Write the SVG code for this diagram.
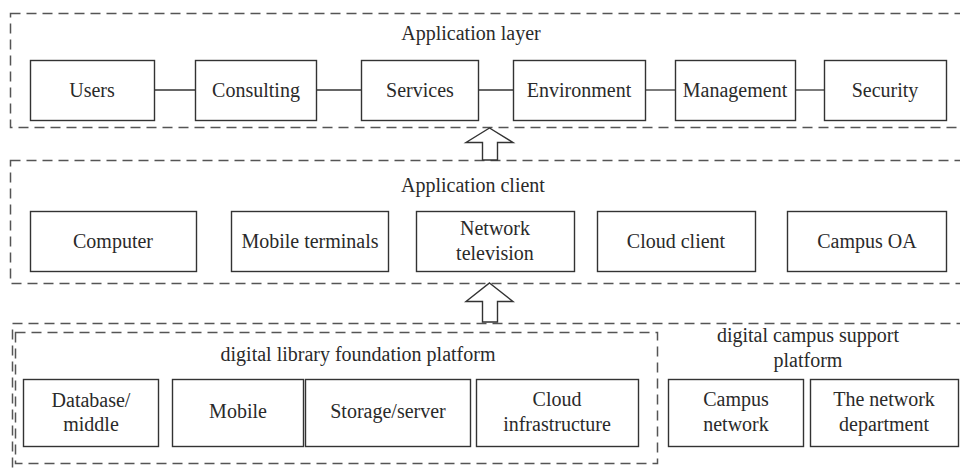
<svg xmlns="http://www.w3.org/2000/svg" width="960" height="472" viewBox="0 0 960 472" font-family="'Liberation Serif', 'Times New Roman', 'DejaVu Serif', serif">
<style>
.bg{fill:#ffffff}
.box{fill:#ffffff;stroke:#333333;stroke-width:1.4}
.dash{fill:none;stroke:#555555;stroke-width:1.5;stroke-dasharray:10 6}
.line{stroke:#333333;stroke-width:1.3;fill:none}
.arrow{fill:#ffffff;stroke:#333333;stroke-width:1.4;stroke-linejoin:miter}
text{font-size:20px;fill:#2a2a2a;text-anchor:middle}
</style>
<rect class="bg" x="0" y="0" width="960" height="472"/>
<g id="containers">
<rect id="app-layer" class="dash" x="10.5" y="13.5" width="960" height="114"/>
<rect id="app-client" class="dash" x="10.5" y="160.5" width="960" height="123"/>
<rect id="support-outer" class="dash" x="12.5" y="323.5" width="960" height="160"/>
<rect id="library-platform" class="dash" x="15.5" y="332.5" width="642" height="131"/>
</g>
<g id="titles">
<text x="471" y="40">Application layer</text>
<text x="473" y="192">Application client</text>
<text x="358" y="361">digital library foundation platform</text>
<text x="808" y="342">digital campus support</text>
<text x="808" y="367">platform</text>
</g>
<g id="connectors">
<line class="line" x1="154" y1="90" x2="195" y2="90"/>
<line class="line" x1="316" y1="90" x2="361" y2="90"/>
<line class="line" x1="478" y1="90" x2="513" y2="90"/>
<line class="line" x1="645" y1="90" x2="675" y2="90"/>
<line class="line" x1="795" y1="90" x2="824" y2="90"/>
<path id="arrow1" class="arrow" d="M489.5 128 L513 142.5 L497.5 142.5 L497.5 160 L482.5 160 L482.5 142.5 L466 142.5 Z"/>
<path id="arrow2" class="arrow" d="M489.5 283 L513 301.5 L497.5 301.5 L497.5 322 L482.5 322 L482.5 301.5 L466 301.5 Z"/>
</g>
<g id="users"><rect class="box" x="30.5" y="60.5" width="124" height="60"/><text x="92" y="97">Users</text></g>
<g id="consulting"><rect class="box" x="195.5" y="60.5" width="121" height="60"/><text x="256" y="97">Consulting</text></g>
<g id="services"><rect class="box" x="361.5" y="60.5" width="117" height="60"/><text x="420" y="97">Services</text></g>
<g id="environment"><rect class="box" x="513.5" y="60.5" width="132" height="60"/><text x="579" y="97">Environment</text></g>
<g id="management"><rect class="box" x="675.5" y="60.5" width="120" height="60"/><text x="735" y="97">Management</text></g>
<g id="security"><rect class="box" x="824.5" y="60.5" width="122" height="60"/><text x="885" y="97">Security</text></g>
<g id="computer"><rect class="box" x="30.5" y="211.5" width="166" height="60"/><text x="113" y="248">Computer</text></g>
<g id="mobile-terminals"><rect class="box" x="231.5" y="211.5" width="157" height="60"/><text x="310" y="248">Mobile terminals</text></g>
<g id="network-television"><rect class="box" x="416.5" y="211.5" width="158" height="60"/><text x="495" y="235">Network</text><text x="495" y="260">television</text></g>
<g id="cloud-client"><rect class="box" x="597.5" y="211.5" width="158" height="60"/><text x="676" y="248">Cloud client</text></g>
<g id="campus-oa"><rect class="box" x="787.5" y="211.5" width="159" height="60"/><text x="867" y="248">Campus OA</text></g>
<g id="database"><rect class="box" x="23.5" y="379.5" width="135" height="67"/><text x="91" y="407">Database/</text><text x="91" y="431">middle</text></g>
<g id="mobile"><rect class="box" x="172.5" y="379.5" width="131" height="67"/><text x="238" y="418">Mobile</text></g>
<g id="storage"><rect class="box" x="305.5" y="379.5" width="165" height="67"/><text x="388" y="418">Storage/server</text></g>
<g id="cloud-infra"><rect class="box" x="476.5" y="379.5" width="162" height="67"/><text x="557" y="406">Cloud</text><text x="557" y="431">infrastructure</text></g>
<g id="campus-network"><rect class="box" x="668.5" y="379.5" width="135" height="67"/><text x="736" y="406">Campus</text><text x="736" y="431">network</text></g>
<g id="network-dept"><rect class="box" x="810.5" y="379.5" width="148" height="67"/><text x="884" y="406">The network</text><text x="884" y="431">department</text></g>
</svg>
